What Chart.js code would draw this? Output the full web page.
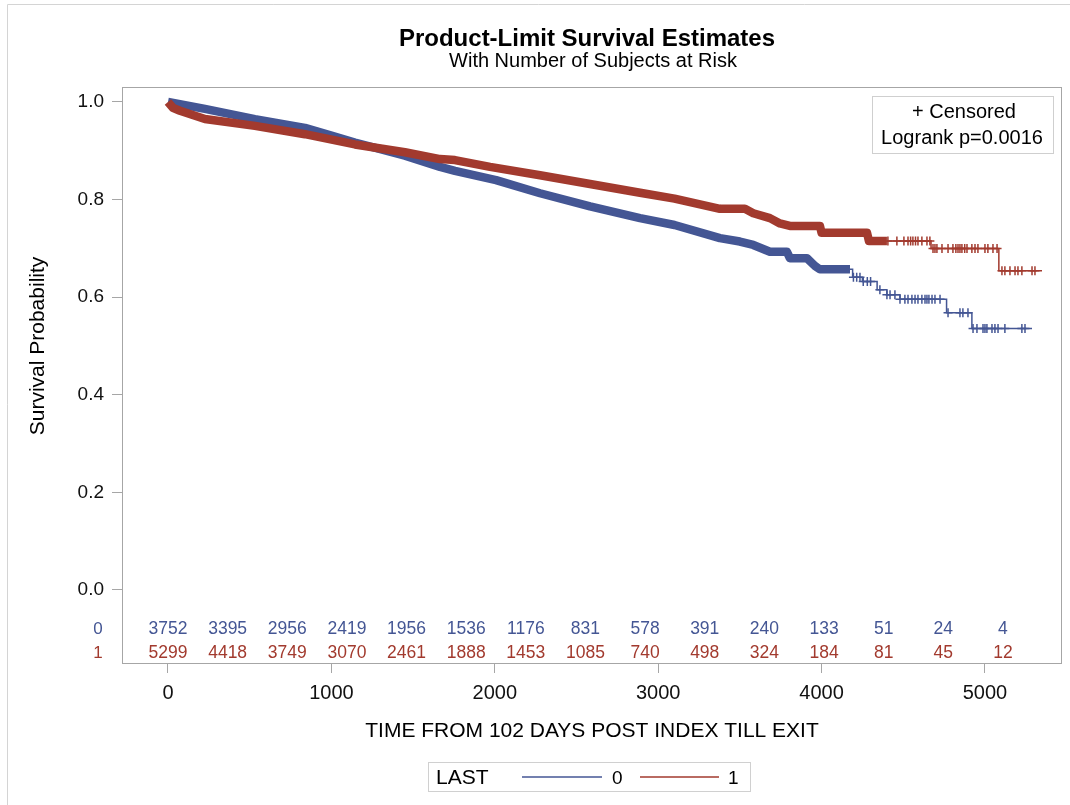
<!DOCTYPE html>
<html>
<head>
<meta charset="utf-8">
<script src="https://cdn.jsdelivr.net/npm/chart.js@4/dist/chart.umd.min.js"></script>
<style>
  html, body { margin: 0; padding: 0; background: #fff; }
  #wrap { width: 1070px; height: 805px; position: relative; }
</style>
</head>
<body>
<div id="wrap"><canvas id="km" width="1070" height="805"></canvas></div>
<script>
// Early part of each curve: censoring marks are so dense they merge into a band.
// These are points read along that band (time, survival).
const bandT0 = [0, 226, 532, 838, 1000, 1144, 1450, 1665, 1756, 2008, 2277, 2583, 2889, 3100, 3378, 3500, 3582, 3684, 3788, 3806, 3910, 3960, 3990, 4174];
const bandS0 = [1.000, 0.986, 0.965, 0.947, 0.931, 0.917, 0.890, 0.867, 0.859, 0.840, 0.813, 0.786, 0.762, 0.748, 0.721, 0.714, 0.707, 0.693, 0.693, 0.680, 0.680, 0.664, 0.657, 0.657];

const bandT1 = [0, 30, 73, 226, 532, 838, 1144, 1450, 1665, 1756, 1971, 2277, 2583, 2889, 3100, 3378, 3531, 3582, 3684, 3745, 3806, 3990, 4000, 4278, 4290, 4400];
const bandS1 = [1.000, 0.988, 0.982, 0.965, 0.951, 0.934, 0.913, 0.897, 0.883, 0.881, 0.867, 0.850, 0.832, 0.814, 0.802, 0.781, 0.781, 0.772, 0.762, 0.751, 0.746, 0.746, 0.732, 0.732, 0.715, 0.715];

// Tail of each curve as Kaplan-Meier steps: survival becomes s at time t
const tailT0 = [4174, 4190, 4250, 4340, 4400, 4480, 4765, 4920, 5288];
const tailS0 = [0.657, 0.641, 0.632, 0.615, 0.605, 0.596, 0.568, 0.536, 0.536];

const tailT1 = [4400, 4670, 5085, 5349];
const tailS1 = [0.715, 0.700, 0.654, 0.654];

// individual censoring marks in the sparse tail
const censor0 = [4195, 4215, 4235, 4255, 4280, 4300, 4357, 4400, 4419, 4449, 4480, 4510, 4529, 4553, 4572, 4590, 4614, 4633, 4645, 4657, 4676, 4694, 4725, 4774, 4847, 4865, 4896, 4927, 4951, 4988, 5000, 5012, 5043, 5061, 5080, 5122, 5226, 5245];
const censor1 = [4406, 4461, 4504, 4529, 4545, 4559, 4575, 4590, 4614, 4645, 4663, 4682, 4694, 4706, 4737, 4774, 4804, 4822, 4835, 4847, 4859, 4876, 4890, 4920, 4939, 4957, 5000, 5018, 5049, 5074, 5104, 5122, 5153, 5184, 5202, 5226, 5288, 5306];

// number at risk table
const atRiskTimes = [0, 365, 730, 1095, 1460, 1825, 2190, 2555, 2920, 3285, 3650, 4015, 4380, 4745, 5110];
const atRisk0 = [3752, 3395, 2956, 2419, 1956, 1536, 1176, 831, 578, 391, 240, 133, 51, 24, 4];
const atRisk1 = [5299, 4418, 3749, 3070, 2461, 1888, 1453, 1085, 740, 498, 324, 184, 81, 45, 12];

const groups = ["0", "1"];
const xTicks = [0, 1000, 2000, 3000, 4000, 5000];
const yTicks = [0, 0.2, 0.4, 0.6, 0.8, 1.0];

const BLUE = "#445694";
const RED = "#A23A2E";
const FONT = "'Liberation Sans', Arial, sans-serif";

function toPoints(times, surv) {
    const pts = [];
    for (let i = 0; i < times.length; i++) {
        pts.push({x: times[i], y: surv[i]});
    }
    return pts;
}

function survAt(times, surv, t) {
    let s = surv[0];
    for (let i = 0; i < times.length; i++) {
        if (times[i] <= t) s = surv[i];
    }
    return s;
}

function censorPoints(times, surv, cens) {
    return cens.map(t => ({x: t, y: survAt(times, surv, t)}));
}

// texts that SAS puts around the plot
const decorPlugin = {
    id: "decor",
    afterDraw(chart) {
        const ctx = chart.ctx;
        const area = chart.chartArea;
        const xs = chart.scales.x;
        const ys = chart.scales.y;
        const cx = (area.left + area.right) / 2;
        ctx.save();

        // outer frame
        ctx.strokeStyle = "#d4d4d4";
        ctx.lineWidth = 1;
        ctx.beginPath();
        ctx.moveTo(7.5, 805);
        ctx.lineTo(7.5, 4.5);
        ctx.lineTo(1070, 4.5);
        ctx.stroke();

        // plot frame
        ctx.strokeStyle = "#a6a6a6";
        ctx.strokeRect(area.left + 0.5, area.top + 0.5, area.right - area.left - 1, area.bottom - area.top);

        // titles
        ctx.fillStyle = "#000";
        ctx.textAlign = "center";
        ctx.textBaseline = "alphabetic";
        ctx.font = "bold 24px " + FONT;
        ctx.fillText("Product-Limit Survival Estimates", cx - 5, 46);
        ctx.font = "20px " + FONT;
        ctx.fillText("With Number of Subjects at Risk", cx + 1, 67);

        // axis titles
        ctx.font = "21px " + FONT;
        ctx.fillText("TIME FROM 102 DAYS POST INDEX TILL EXIT", cx, 737);
        ctx.save();
        ctx.textBaseline = "middle";
        ctx.translate(38, (ys.getPixelForValue(0) + ys.getPixelForValue(1)) / 2);
        ctx.rotate(-Math.PI / 2);
        ctx.fillText("Survival Probability", 0, 0);
        ctx.restore();

        // inset box
        ctx.fillStyle = "#fff";
        ctx.fillRect(872, 96, 181, 57);
        ctx.strokeStyle = "#cfcfcf";
        ctx.strokeRect(872.5, 96.5, 181, 57);
        ctx.fillStyle = "#000";
        ctx.font = "20px " + FONT;
        ctx.fillText("+ Censored", 964, 118);
        ctx.fillText("Logrank p=0.0016", 962, 144);

        // at-risk table
        const rows = [atRisk0, atRisk1];
        const colors = [BLUE, RED];
        const rowY = [area.bottom - 29, area.bottom - 5];
        for (let r = 0; r < rows.length; r++) {
            ctx.fillStyle = colors[r];
            ctx.font = "17px " + FONT;
            ctx.fillText(groups[r], 98, rowY[r]);
            ctx.font = "17.5px " + FONT;
            for (let i = 0; i < atRiskTimes.length; i++) {
                ctx.fillText(String(rows[r][i]), xs.getPixelForValue(atRiskTimes[i]), rowY[r]);
            }
        }

        // legend
        ctx.strokeStyle = "#d0d0d0";
        ctx.strokeRect(428.5, 762.5, 322, 29);
        ctx.fillStyle = "#000";
        ctx.textAlign = "left";
        ctx.font = "21px " + FONT;
        ctx.fillText("LAST", 436, 784);
        ctx.lineWidth = 1.5;
        ctx.strokeStyle = BLUE;
        ctx.beginPath(); ctx.moveTo(522, 777); ctx.lineTo(602, 777); ctx.stroke();
        ctx.strokeStyle = RED;
        ctx.beginPath(); ctx.moveTo(640, 777); ctx.lineTo(719, 777); ctx.stroke();
        ctx.font = "19px " + FONT;
        ctx.fillText(groups[0], 612, 784);
        ctx.fillText(groups[1], 728, 784);

        ctx.restore();
    }
};

const datasets = [
    {
        label: groups[1] + " band",
        data: toPoints(bandT1, bandS1),
        borderColor: RED, borderWidth: 8.5, stepped: false, tension: 0,
        pointRadius: 0, borderCapStyle: "butt", borderJoinStyle: "round", order: 1
    },
    {
        label: groups[1],
        data: toPoints(tailT1, tailS1),
        borderColor: RED, borderWidth: 1.5, stepped: "before",
        pointRadius: 0, order: 1
    },
    {
        label: groups[1] + " censored",
        data: censorPoints(tailT1, tailS1, censor1),
        showLine: false, pointStyle: "cross", pointRadius: 4.5,
        pointBorderWidth: 1.5, borderColor: RED, backgroundColor: RED, order: 0
    },
    {
        label: groups[0] + " band",
        data: toPoints(bandT0, bandS0),
        borderColor: BLUE, borderWidth: 8.5, stepped: false, tension: 0,
        pointRadius: 0, borderCapStyle: "butt", borderJoinStyle: "round", order: 3
    },
    {
        label: groups[0],
        data: toPoints(tailT0, tailS0),
        borderColor: BLUE, borderWidth: 1.5, stepped: "before",
        pointRadius: 0, order: 3
    },
    {
        label: groups[0] + " censored",
        data: censorPoints(tailT0, tailS0, censor0),
        showLine: false, pointStyle: "cross", pointRadius: 4.5,
        pointBorderWidth: 1.5, borderColor: BLUE, backgroundColor: BLUE, order: 2
    }
];

new Chart(document.querySelector("#km"), {
    type: "line",
    data: {datasets: datasets},
    options: {
        responsive: false,
        animation: false,
        layout: {padding: {top: 87, right: 8, bottom: 0, left: 0}},
        plugins: {legend: {display: false}, tooltip: {enabled: false}, title: {display: false}},
        scales: {
            x: {
                type: "linear",
                min: -281.5,
                max: 5471.5,
                afterBuildTicks: (s) => { s.ticks = xTicks.map(v => ({value: v})); },
                afterFit: (s) => { s.height = 142; },
                grid: {display: true, drawOnChartArea: false, tickLength: 10, color: "#a6a6a6"},
                border: {display: false},
                ticks: {color: "#111", font: {family: FONT, size: 20}, padding: 8, maxRotation: 0,
                        callback: (v) => String(v)}
            },
            y: {
                type: "linear",
                min: -0.1496,
                max: 1.0307,
                afterBuildTicks: (s) => { s.ticks = yTicks.map(v => ({value: v})); },
                afterFit: (s) => { s.width = 122; },
                grid: {display: true, drawOnChartArea: false, tickLength: 10, color: "#a6a6a6"},
                border: {display: false},
                ticks: {color: "#111", font: {family: FONT, size: 19}, padding: 8,
                        callback: (v) => Number(v).toFixed(1)}
            }
        }
    },
    plugins: [decorPlugin]
});
</script>
</body>
</html>
